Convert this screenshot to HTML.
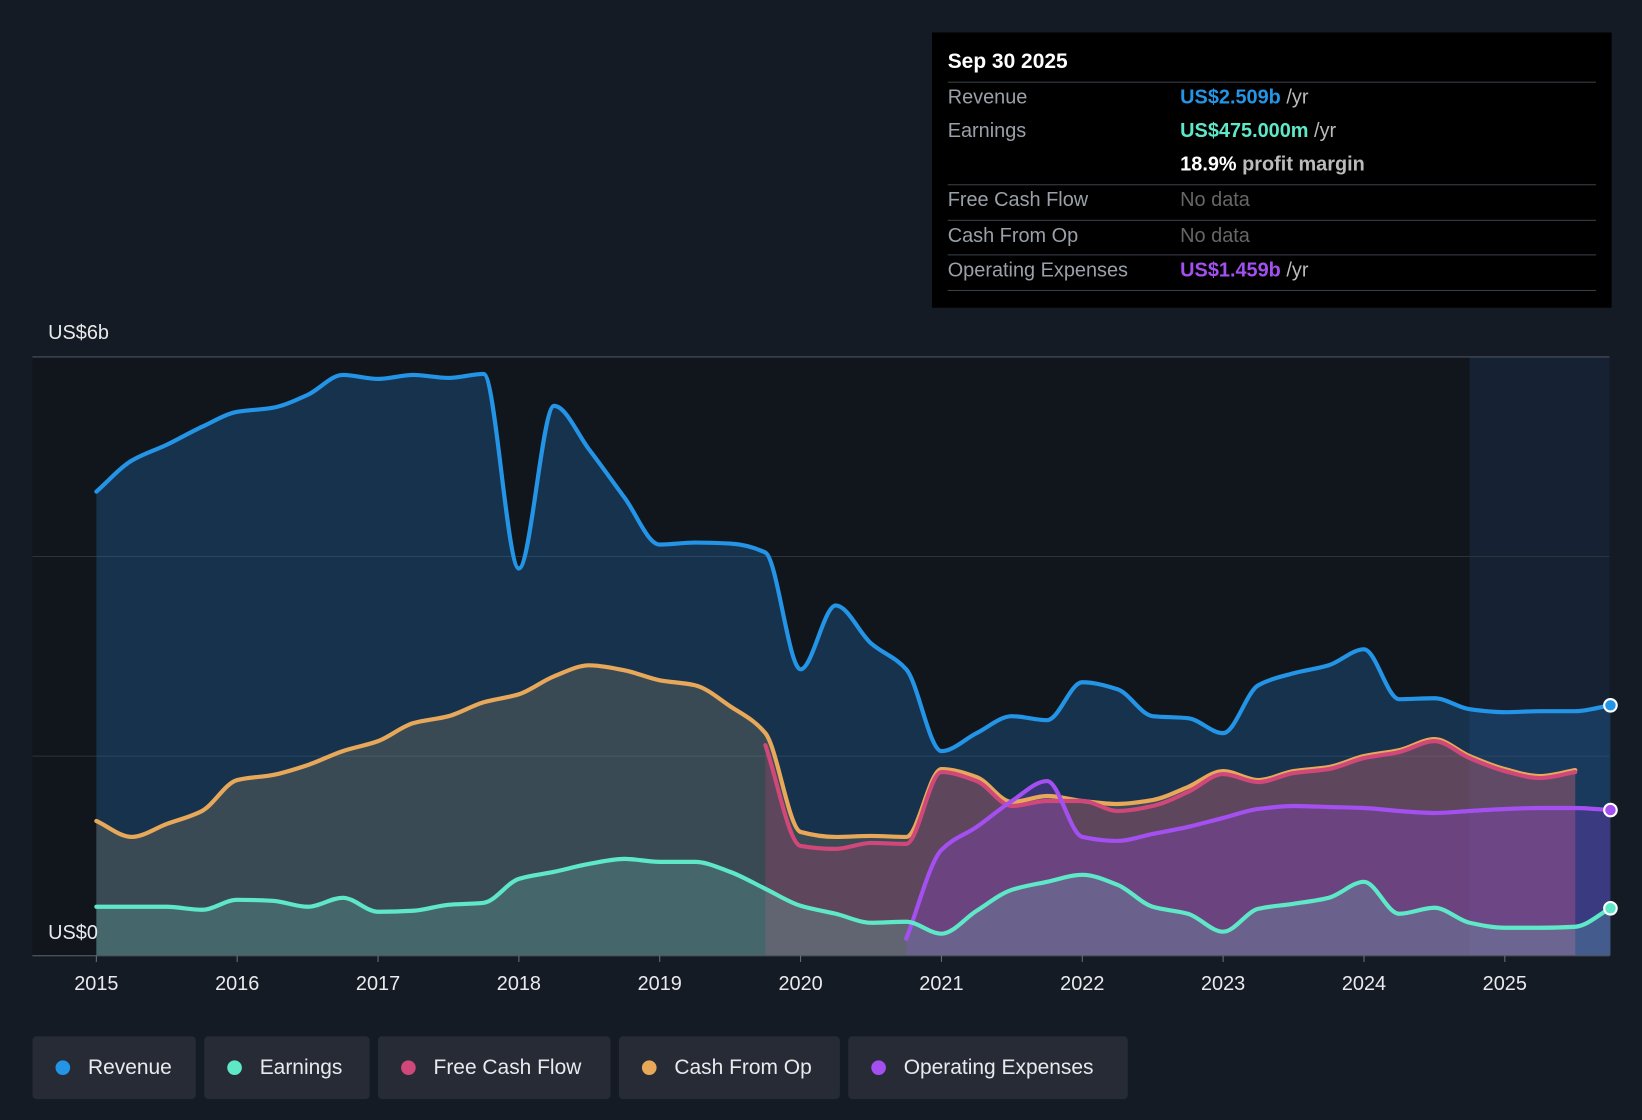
<!DOCTYPE html>
<html><head><meta charset="utf-8">
<style>
html,body{margin:0;padding:0;background:#151b24;width:1642px;height:1120px;overflow:hidden;font-family:"Liberation Sans",Roboto,sans-serif;}
#wrap{position:absolute;left:0;top:0;width:1568px;height:1070px;transform:scale(1.04719,1.04673);transform-origin:0 0;}
#tip{position:absolute;left:890px;top:31px;width:649px;height:263px;background:#000;color:#fff;font-size:19px;}
.row{position:absolute;left:15px;width:619px;border-top:1px solid #3a3f47;height:32px;}
.row span{position:absolute;top:4px}
.lab{left:0;color:#9aa0a8}
.val{left:222px}
.legend{position:absolute;top:990px;height:60px;background:#262b35;border-radius:4px;color:#e8eaed;font-size:20px;line-height:60px;}
.legend i{position:absolute;top:23px;left:22px;width:14px;height:14px;border-radius:50%}
.legend span{position:absolute;left:53px}
</style></head><body>
<div id="wrap">
<svg id="chart" width="1568" height="1070" style="position:absolute;left:0;top:0"></svg>
<div id="tip">
 <div style="position:absolute;left:15px;top:17px;font-weight:bold;font-size:20px">Sep 30 2025</div>
 <div class="row" style="top:47px"><span class="lab">Revenue</span><span class="val"><b style="color:#2394e6">US$2.509b</b> <span style="position:static;color:#bbb">/yr</span></span></div>
 <div class="row" style="top:80px;border-top:none"><span class="lab">Earnings</span><span class="val"><b style="color:#5ee8c8">US$475.000m</b> <span style="position:static;color:#bbb">/yr</span></span></div>
 <div class="row" style="top:112px;border-top:none"><span class="val"><b>18.9%</b> <span style="position:static;color:#bbb;font-weight:bold">profit margin</span></span></div>
 <div class="row" style="top:145px"><span class="lab">Free Cash Flow</span><span class="val" style="color:#666">No data</span></div>
 <div class="row" style="top:179px"><span class="lab">Cash From Op</span><span class="val" style="color:#666">No data</span></div>
 <div class="row" style="top:212px"><span class="lab">Operating Expenses</span><span class="val"><b style="color:#a44ff0">US$1.459b</b> <span style="position:static;color:#bbb">/yr</span></span></div>
 <div class="row" style="top:246px;height:0"></div>
</div>
<div class="legend" style="left:31px;width:156px"><i style="background:#2394e6"></i><span>Revenue</span></div>
<div class="legend" style="left:195px;width:158px"><i style="background:#5ee8c8"></i><span>Earnings</span></div>
<div class="legend" style="left:361px;width:222px"><i style="background:#d0477a"></i><span>Free Cash Flow</span></div>
<div class="legend" style="left:591px;width:211px"><i style="background:#e8a85a"></i><span>Cash From Op</span></div>
<div class="legend" style="left:810px;width:267px"><i style="background:#a44ff0"></i><span>Operating Expenses</span></div>
</div>
<script>
const years=[2015,2016,2017,2018,2019,2020,2021,2022,2023,2024,2025];
const revT=[2015,2015.25,2015.5,2015.75,2016,2016.25,2016.5,2016.75,2017,2017.25,2017.5,2017.75,2018,2018.25,2018.5,2018.75,2019,2019.25,2019.5,2019.75,2020,2020.25,2020.5,2020.75,2021,2021.25,2021.5,2021.75,2022,2022.25,2022.5,2022.75,2023,2023.25,2023.5,2023.75,2024,2024.25,2024.5,2024.75,2025,2025.25,2025.5,2025.75];
const revenue=[4.65,4.96,5.12,5.30,5.45,5.49,5.62,5.82,5.78,5.82,5.79,5.83,3.88,5.51,5.07,4.59,4.12,4.14,4.13,4.04,2.87,3.51,3.13,2.87,2.05,2.23,2.40,2.36,2.74,2.67,2.40,2.38,2.23,2.71,2.83,2.91,3.07,2.57,2.58,2.47,2.44,2.45,2.45,2.509];
const earnings=[0.49,0.49,0.49,0.46,0.56,0.55,0.49,0.58,0.44,0.45,0.51,0.53,0.77,0.84,0.92,0.97,0.94,0.94,0.84,0.67,0.50,0.42,0.33,0.34,0.22,0.45,0.66,0.74,0.81,0.71,0.49,0.42,0.24,0.47,0.52,0.58,0.74,0.42,0.48,0.33,0.28,0.28,0.29,0.475];
const cfoT=revT.slice(0,43);
const cashFromOp=[1.35,1.19,1.32,1.45,1.76,1.81,1.91,2.05,2.15,2.33,2.40,2.54,2.62,2.80,2.91,2.86,2.76,2.71,2.50,2.23,1.24,1.19,1.20,1.19,1.87,1.79,1.54,1.60,1.55,1.52,1.56,1.69,1.85,1.76,1.85,1.89,2.00,2.06,2.17,2.00,1.87,1.80,1.86];
const fcfT=revT.slice(19,43);
const freeCashFlow=[2.11,1.10,1.07,1.13,1.12,1.84,1.75,1.50,1.55,1.55,1.45,1.50,1.64,1.82,1.74,1.83,1.87,1.98,2.04,2.15,1.98,1.85,1.78,1.84];
const opxT=revT.slice(23);
const opex=[0.17,1.06,1.29,1.55,1.75,1.19,1.15,1.22,1.29,1.38,1.47,1.50,1.49,1.48,1.45,1.43,1.45,1.47,1.48,1.48,1.459];

const NS="http://www.w3.org/2000/svg";
const svg=document.getElementById('chart');
const X0=92,PX=134.5,Y0=913,PY=95.33,LEFT=31,RIGHT=1537,TOP=341;
const xs=t=>X0+(t-2015)*PX, ys=v=>Y0-v*PY;
function el(tag,attrs,parent){const e=document.createElementNS(NS,tag);for(const k in attrs)e.setAttribute(k,attrs[k]);(parent||svg).appendChild(e);return e;}
function pathD(T,V){const p=T.map((t,i)=>[xs(t),ys(V[i])]);const n=p.length;
 const dl=[],m=[];for(let i=0;i<n-1;i++)dl.push((p[i+1][1]-p[i][1])/(p[i+1][0]-p[i][0]));
 for(let i=0;i<n;i++){if(i==0)m.push(dl[0]);else if(i==n-1)m.push(dl[n-2]);else m.push(dl[i-1]*dl[i]<=0?0:2/(1/dl[i-1]+1/dl[i]));}
 let d=`M${p[0][0]},${p[0][1]}`;
 for(let i=0;i<n-1;i++){const h=(p[i+1][0]-p[i][0])/3;
  d+=` C${p[i][0]+h},${p[i][1]+m[i]*h} ${p[i+1][0]-h},${p[i+1][1]-m[i+1]*h} ${p[i+1][0]},${p[i+1][1]}`;}return d;}
const bg=el('rect',{x:LEFT,y:TOP,width:RIGHT-LEFT,height:Y0-TOP,fill:'#11151c'});

const hl=el('rect',{x:xs(2024.75),y:TOP,width:RIGHT-xs(2024.75),height:Y0-TOP,fill:'#162233'});

[0,2,4,6].forEach(v=>{const g=el('line',{x1:LEFT,x2:RIGHT,y1:ys(v),y2:ys(v),stroke:v==6||v==0?'#4a525c':'#2c333d','stroke-width':1});
 });
function series(T,V,color,fill,name){
 const d=pathD(T,V);
 const a=el('path',{d:d+` L${xs(T[T.length-1])},${Y0} L${xs(T[0])},${Y0} Z`,fill:fill});
 
 return ()=>{const l=el('path',{d:d,fill:'none',stroke:color,'stroke-width':4,'stroke-linecap':'round'});
 };
}
const L1=series(revT,revenue,'#2394e6','rgba(35,110,180,0.33)','revenue');
const L2=series(cfoT,cashFromOp,'#e8a85a','rgba(200,170,120,0.2)','cash-from-op');
const L3=series(fcfT,freeCashFlow,'#d0477a','rgba(190,60,110,0.28)','free-cash-flow');
const L5=series(opxT,opex,'#a44ff0','rgba(140,60,220,0.28)','operating-expenses');
const L4=series(revT,earnings,'#5ee8c8','rgba(110,210,190,0.22)','earnings');
L1();L2();L3();L5();L4();
[[revenue,'#2394e6','revenue-end-dot'],[opex,'#a44ff0','opex-end-dot'],[earnings,'#5ee8c8','earnings-end-dot']].forEach(([V,c,n])=>{
 const d=el('circle',{cx:xs(2025.75),cy:ys(V[V.length-1]),r:6,fill:c,stroke:'#fff','stroke-width':2});
 });
const ax=el('line',{x1:LEFT,x2:RIGHT,y1:Y0,y2:Y0,stroke:'#4a525c'});

years.forEach(y=>{const tk=el('line',{x1:xs(y),x2:xs(y),y1:Y0,y2:Y0+6,stroke:'#6a717a'});
 
 const t=el('text',{x:xs(y),y:946,fill:'#e8eaed','font-size':19,'text-anchor':'middle','font-family':'Liberation Sans, sans-serif'});
 t.textContent=y;});
[['US$6b',324],['US$0',897]].forEach(([s,y])=>{const t=el('text',{x:46,y:y,fill:'#e8eaed','font-size':19,'font-family':'Liberation Sans, sans-serif'});
 t.textContent=s;});
</script>
</body></html>
